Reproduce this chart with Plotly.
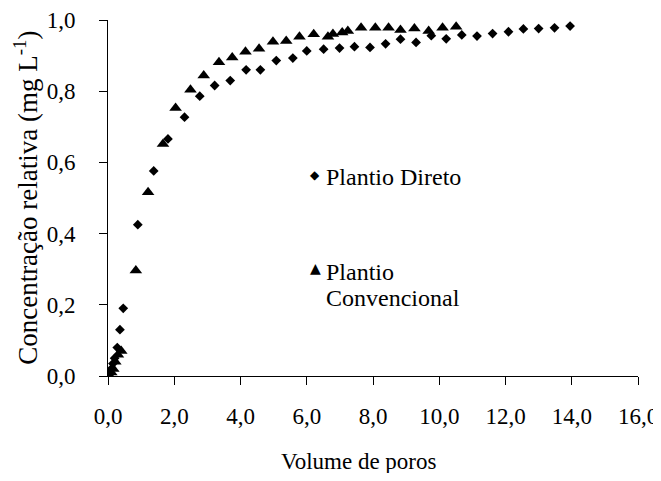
import plotly.graph_objects as go

# Plantio Direto (diamonds)
pd_x = [0.05, 0.10, 0.15, 0.20, 0.28, 0.36, 0.46, 0.90, 1.38, 1.81, 2.31, 2.77, 3.22, 3.69,
        4.17, 4.60, 5.08, 5.58, 6.00, 6.51, 6.99, 7.44, 7.91, 8.38, 8.83, 9.30, 9.76,
        10.21, 10.68, 11.14, 11.61, 12.09, 12.54, 13.00, 13.48, 13.95]
pd_y = [0.005, 0.02, 0.035, 0.05, 0.08, 0.13, 0.19, 0.425, 0.576, 0.666, 0.727, 0.786, 0.816, 0.830,
        0.860, 0.860, 0.886, 0.893, 0.913, 0.918, 0.921, 0.925, 0.923, 0.933, 0.946, 0.937, 0.956,
        0.947, 0.958, 0.955, 0.962, 0.967, 0.975, 0.976, 0.978, 0.983]

# Plantio Convencional (triangles)
pc_x = [0.05, 0.10, 0.16, 0.22, 0.30, 0.40, 0.84, 1.21, 1.66, 2.04, 2.49, 2.89, 3.35, 3.75,
        4.15, 4.56, 4.98, 5.38, 5.78, 6.21, 6.64, 6.79, 7.07, 7.24, 7.64, 8.07, 8.47,
        8.83, 9.25, 9.68, 10.10, 10.51]
pc_y = [0.0, 0.01, 0.02, 0.04, 0.06, 0.07, 0.296, 0.516, 0.652, 0.753, 0.804, 0.844, 0.881, 0.895,
        0.911, 0.919, 0.939, 0.941, 0.953, 0.960, 0.953, 0.961, 0.965, 0.969, 0.978, 0.978, 0.978,
        0.972, 0.976, 0.969, 0.978, 0.981]

x_ticks = [0, 2, 4, 6, 8, 10, 12, 14, 16]
x_tick_labels = ["0,0", "2,0", "4,0", "6,0", "8,0", "10,0", "12,0", "14,0", "16,0"]
y_ticks = [0, 0.2, 0.4, 0.6, 0.8, 1.0]
y_tick_labels = ["0,0", "0,2", "0,4", "0,6", "0,8", "1,0"]

FONT = "Liberation Serif, Times New Roman, serif"

fig = go.Figure()
fig.add_trace(go.Scatter(
    x=pd_x, y=pd_y, mode="markers", name="Plantio Direto",
    marker=dict(symbol="diamond", size=7.5, color="black"),
))
fig.add_trace(go.Scatter(
    x=pc_x, y=pc_y, mode="markers", name="Plantio Convencional",
    marker=dict(symbol="triangle-up", size=11, color="black"),
))

# legend drawn as annotations (marker glyph + label lines)
fig.add_annotation(xref="paper", yref="paper", x=0.391, y=0.564, text="◆",
                   showarrow=False, xanchor="center", yanchor="middle",
                   font=dict(family="DejaVu Sans", size=12, color="black"))
fig.add_annotation(xref="paper", yref="paper", x=0.408, y=0.559, text="Plantio Direto",
                   showarrow=False, xanchor="left", yanchor="middle",
                   font=dict(family=FONT, size=24, color="black"))
fig.add_annotation(xref="paper", yref="paper", x=0.391, y=0.302, text="▲",
                   showarrow=False, xanchor="center", yanchor="middle",
                   font=dict(family="DejaVu Sans", size=14, color="black"))
fig.add_annotation(xref="paper", yref="paper", x=0.408, y=0.293, text="Plantio",
                   showarrow=False, xanchor="left", yanchor="middle",
                   font=dict(family=FONT, size=24, color="black"))
fig.add_annotation(xref="paper", yref="paper", x=0.408, y=0.218, text="Convencional",
                   showarrow=False, xanchor="left", yanchor="middle",
                   font=dict(family=FONT, size=24, color="black"))

# axis titles
fig.add_annotation(xref="paper", yref="paper", x=0.4736, y=-0.24, text="Volume de poros",
                   showarrow=False, xanchor="center", yanchor="middle",
                   font=dict(family=FONT, size=23, color="black"))
fig.add_annotation(xref="paper", yref="paper", x=-0.155, y=0.5,
                   text="Concentração relativa (mg L<sup>-1</sup>)", textangle=-90,
                   showarrow=False, xanchor="center", yanchor="middle",
                   font=dict(family=FONT, size=27, color="black"))

fig.update_layout(
    width=653, height=465,
    margin=dict(l=100, r=23, t=12, b=97),
    paper_bgcolor="white", plot_bgcolor="white",
    font=dict(family=FONT, size=17, color="black"),
    showlegend=False,
)
fig.update_xaxes(
    range=[0, 16], tickvals=x_ticks, ticktext=x_tick_labels,
    showline=True, linecolor="black", linewidth=1, ticks="outside", ticklen=8,
    tickcolor="black", showgrid=False, zeroline=False, automargin=False,
    ticklabeloverflow="allow", ticklabelstandoff=11,
    tickfont=dict(family=FONT, size=23),
)
fig.update_yaxes(
    range=[0, 1.0], tickvals=y_ticks, ticktext=y_tick_labels,
    showline=True, linecolor="black", linewidth=1, ticks="outside", ticklen=8,
    tickcolor="black", showgrid=False, zeroline=False, automargin=False,
    ticklabeloverflow="allow", ticklabelstandoff=19,
    tickfont=dict(family=FONT, size=23),
)

fig.write_html("out.html")
